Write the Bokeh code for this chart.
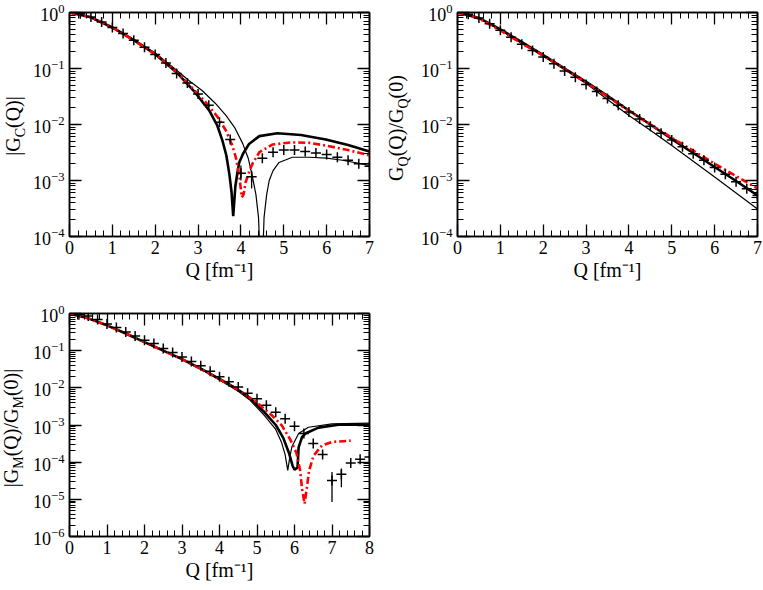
from bokeh.plotting import figure
from bokeh.models import Range1d, LinearAxis, LogAxis, FixedTicker, CustomJSTickFormatter, Div
from bokeh.layouts import column, row
from bokeh.embed import file_html
from bokeh.resources import INLINE

# ---------------- data: panel 1, |G_C(Q)| ----------------
qc_thick = [0, 0.5, 1.0, 1.5, 2.0, 2.5, 2.9, 3.26, 3.45, 3.57, 3.66, 3.73, 3.78, 3.82, 3.87,
            3.92, 3.96, 4.05, 4.19, 4.43, 4.85, 5.4, 5.98, 6.5, 7.0]
gc_thick = [1.0, 0.82, 0.54, 0.32, 0.18, 0.085, 0.040, 0.0178, 0.0095, 0.0051, 0.0028, 0.0013,
            6.3e-4, 2.3e-4, 7.9e-4, 1.4e-3, 2.1e-3, 3.0e-3, 4.5e-3, 6.2e-3, 7.0e-3, 6.5e-3,
            5.4e-3, 4.3e-3, 3.3e-3]
qc_thin = [0, 0.5, 1.0, 1.5, 2.0, 2.5, 2.8, 3.1, 3.4, 3.65, 3.85, 4.04, 4.17, 4.27, 4.35, 4.41,
           4.48, 4.54, 4.6, 4.66, 4.75, 4.89, 5.2, 5.59, 6.0, 6.37, 7.0]
gc_thin = [1.0, 0.83, 0.55, 0.33, 0.19, 0.093, 0.060, 0.040, 0.024, 0.0145, 0.0089, 0.0046,
           0.0025, 0.00115, 5.6e-4, 2.2e-4, 1.0e-5, 2.2e-4, 5.6e-4, 1.0e-3, 1.5e-3, 2.1e-3,
           2.6e-3, 2.6e-3, 2.5e-3, 2.3e-3, 1.86e-3]
qc_red = [0, 0.5, 1.0, 1.5, 2.0, 2.5, 2.9, 3.18, 3.45, 3.65, 3.8, 3.88, 3.96, 4.02, 4.06, 4.11,
          4.2, 4.27, 4.43, 4.74, 5.2, 5.6, 5.98, 6.5, 7.0]
gc_red = [1.0, 0.82, 0.54, 0.32, 0.18, 0.087, 0.042, 0.025, 0.0138, 0.0078, 0.0042, 0.0026,
          0.00126, 5.0e-4, 5.6e-4, 9.3e-4, 1.5e-3, 2.0e-3, 3.2e-3, 4.4e-3, 4.8e-3, 4.7e-3,
          4.2e-3, 3.5e-3, 2.8e-3]
qc_data = [0.25, 0.5, 0.75, 1.0, 1.25, 1.5, 1.75, 2.0, 2.25, 2.5, 2.75, 3.0, 3.25, 3.5, 3.75,
           4.0, 4.25, 4.5, 4.75, 5.0, 5.25, 5.5, 5.75, 6.0, 6.25, 6.5, 6.75, 7.0]
gc_data = [0.95, 0.83, 0.68, 0.54, 0.42, 0.32, 0.24, 0.178, 0.126, 0.081, 0.055, 0.035, 0.022,
           0.011, 0.0054, 1.35e-3, 1.17e-3, 2.5e-3, 3.2e-3, 3.5e-3, 3.5e-3, 3.3e-3, 3.1e-3,
           2.9e-3, 2.6e-3, 2.3e-3, 2.0e-3, 1.8e-3]
qc_err = [4.0, 4.25]
gc_err_lo = [1.0e-3, 7.2e-4]
gc_err_hi = [1.86e-3, 1.5e-3]

# ---------------- data: panel 2, G_Q(Q)/G_Q(0) ----------------
qq_line = [0, 0.5, 1.0, 1.5, 2.0, 2.5, 3.0, 3.5, 4.0, 4.5, 5.0, 5.5, 6.0, 6.5, 7.0]
gq_thick = [1.0, 0.80, 0.50, 0.295, 0.174, 0.10, 0.0575, 0.0324, 0.0178, 0.0100, 0.0055,
            0.0031, 0.00174, 9.8e-4, 5.4e-4]
gq_thin = [1.0, 0.79, 0.49, 0.28, 0.166, 0.095, 0.054, 0.028, 0.0145, 0.0079, 0.0042, 0.0022,
           0.00115, 6.0e-4, 3.1e-4]
gq_red = [1.0, 0.78, 0.48, 0.28, 0.17, 0.098, 0.056, 0.0316, 0.0174, 0.0100, 0.0058, 0.0034,
          0.0020, 0.0012, 7.2e-4]
qq_data = [0.25, 0.5, 0.75, 1.0, 1.25, 1.5, 1.75, 2.0, 2.25, 2.5, 2.75, 3.0, 3.25, 3.5, 3.75,
           4.0, 4.25, 4.5, 4.75, 5.0, 5.25, 5.5, 5.75, 6.0, 6.25, 6.5, 6.75, 7.0]
gq_data = [0.93, 0.80, 0.63, 0.48, 0.36, 0.27, 0.21, 0.160, 0.122, 0.090, 0.070, 0.052, 0.039,
           0.029, 0.0220, 0.0168, 0.0125, 0.0093, 0.0070, 0.0053, 0.0040, 0.0030, 0.0023,
           0.0017, 0.00129, 9.5e-4, 7.1e-4, 5.4e-4]

# ---------------- data: panel 3, |G_M(Q)/G_M(0)| ----------------
qm_thick = [0, 0.5, 1.0, 1.5, 2.0, 2.5, 3.0, 3.5, 4.0, 4.5, 4.8, 5.2, 5.5, 5.7, 5.85, 5.95,
            6.0, 6.08, 6.11, 6.2, 6.29, 6.64, 7.17, 8.0]
gm_thick = [1.0, 0.74, 0.48, 0.29, 0.17, 0.10, 0.059, 0.033, 0.0174, 0.0089, 0.0054, 0.0022,
            0.0010, 4.5e-4, 1.8e-4, 7.9e-5, 6.3e-5, 7.1e-5, 2.5e-4, 4.7e-4, 5.9e-4, 8.5e-4,
            1.02e-3, 1.02e-3]
qm_thin = [0, 0.5, 1.0, 1.5, 2.0, 2.5, 3.0, 3.5, 4.0, 4.5, 4.8, 5.2, 5.5, 5.65, 5.75, 5.82,
           5.87, 5.93, 6.11, 6.37, 7.0, 8.0]
gm_thin = [1.0, 0.74, 0.48, 0.29, 0.17, 0.10, 0.058, 0.032, 0.0162, 0.0081, 0.0048, 0.0018,
           7.6e-4, 3.5e-4, 1.6e-4, 6.0e-5, 1.26e-4, 2.6e-4, 5.9e-4, 8.7e-4, 1.07e-3, 1.12e-3]
qm_red = [0, 0.5, 1.0, 1.5, 2.0, 2.5, 3.0, 3.5, 4.0, 4.5, 5.0, 5.4, 5.66, 5.89, 6.05, 6.15,
          6.2, 6.27, 6.33, 6.39, 6.51, 6.73, 7.0, 7.5]
gm_red = [1.0, 0.74, 0.48, 0.29, 0.17, 0.10, 0.059, 0.032, 0.017, 0.0089, 0.0040, 0.0018,
          9.8e-4, 4.0e-4, 1.8e-4, 6.0e-5, 1.95e-5, 7.6e-6, 2.1e-5, 6.0e-5, 1.5e-4, 2.8e-4,
          3.5e-4, 3.8e-4]
qm_data = [0.25, 0.5, 0.75, 1.0, 1.25, 1.5, 1.75, 2.0, 2.25, 2.5, 2.75, 3.0, 3.25, 3.5, 3.75,
           4.0, 4.25, 4.5, 4.75, 5.0, 5.25, 5.5, 5.75, 6.0, 6.25, 6.5, 6.75, 7.0, 7.25, 7.5,
           7.75, 8.0]
gm_data = [0.93, 0.85, 0.69, 0.52, 0.42, 0.32, 0.25, 0.19, 0.155, 0.115, 0.089, 0.068, 0.051,
           0.039, 0.028, 0.020, 0.0145, 0.0105, 0.0072, 0.0051, 0.0034, 0.0022, 0.00148,
           9.3e-4, 5.9e-4, 3.2e-4, 1.6e-4, 3.2e-5, 4.7e-5, 9.5e-5, 1.2e-4, 1.38e-4]
qm_err = [7.0, 7.25]
gm_err_lo = [8.5e-6, 2.1e-5]
gm_err_hi = [5.4e-5, 6.8e-5]

# ---------------- ticks and texts ----------------
x_ticks_7 = [0, 1, 2, 3, 4, 5, 6, 7]
x_ticks_8 = [0, 1, 2, 3, 4, 5, 6, 7, 8]
y_ticks_4 = [1e-4, 1e-3, 1e-2, 1e-1, 1.0]
y_ticks_6 = [1e-6, 1e-5, 1e-4, 1e-3, 1e-2, 1e-1, 1.0]
x_label = "Q [fm\u207b\u00b9]"
ylab_c = ("|G", "C", "(Q)|")
ylab_q = ("G", "Q", "(Q)/G", "Q", "(0)")
ylab_m = ("|G", "M", "(Q)/G", "M", "(0)|")

SERIF = "Liberation Serif"
RED = "#ff0000"


def minor_lin(xmax):
    return [i * 0.2 for i in range(int(xmax * 5) + 1) if i % 5 != 0]


def minor_log(e0):
    return [m * 10.0 ** e for e in range(e0, 0) for m in range(2, 10)]


def style_axis(ax, ticks, minor, labels=True, standoff=5):
    ax.ticker = FixedTicker(ticks=ticks, minor_ticks=minor)
    ax.major_tick_in = 12
    ax.major_tick_out = 0
    ax.minor_tick_in = 6
    ax.minor_tick_out = 0
    ax.axis_line_color = "black"
    ax.axis_line_width = 1.5
    ax.major_tick_line_color = "black"
    ax.major_tick_line_width = 1.3
    ax.minor_tick_line_color = "black"
    ax.minor_tick_line_width = 1.0
    ax.major_label_text_font = SERIF
    ax.major_label_text_font_size = "18px"
    ax.major_label_text_color = "black"
    ax.major_label_standoff = standoff
    if not labels:
        ax.formatter = CustomJSTickFormatter(code="return ''")
        ax.major_label_standoff = 0


def panel(xmax, ymin_exp, fw, fh, bl, bt, br, bb):
    p = figure(frame_width=fw, frame_height=fh, min_border_left=bl, min_border_top=bt,
               min_border_right=br, min_border_bottom=bb, y_axis_type="log",
               x_range=Range1d(0, xmax), y_range=Range1d(10.0 ** ymin_exp, 1.0),
               output_backend="svg", toolbar_location=None)
    p.xgrid.visible = False
    p.ygrid.visible = False
    p.outline_line_color = "black"
    p.outline_line_width = 1.5
    p.background_fill_color = "white"
    p.border_fill_color = "white"
    xt = x_ticks_7 if xmax == 7 else x_ticks_8
    yt = y_ticks_4 if ymin_exp == -4 else y_ticks_6
    style_axis(p.xaxis[0], xt, minor_lin(xmax), standoff=4)
    style_axis(p.yaxis[0], yt, minor_log(ymin_exp), standoff=5)
    p.xaxis[0].axis_label = x_label
    p.xaxis[0].axis_label_text_font = SERIF
    p.xaxis[0].axis_label_text_font_style = "normal"
    p.xaxis[0].axis_label_text_font_size = "20px"
    p.xaxis[0].axis_label_text_color = "black"
    p.xaxis[0].axis_label_standoff = 2
    top = LinearAxis()
    style_axis(top, xt, minor_lin(xmax), labels=False)
    p.add_layout(top, "above")
    right = LogAxis()
    style_axis(right, yt, minor_log(ymin_exp), labels=False)
    p.add_layout(right, "right")
    return p


def draw(p, q_thin, v_thin, q_thick, v_thick, q_red, v_red, q_dat, v_dat, q_err=None, lo=None, hi=None):
    p.line(q_thin, v_thin, line_color="black", line_width=1.2)
    p.line(q_thick, v_thick, line_color="black", line_width=2.6)
    p.line(q_red, v_red, line_color=RED, line_width=2.6, line_dash="7 3 2 3")
    if q_err is not None:
        p.segment(x0=q_err, y0=lo, x1=q_err, y1=hi, line_color="black", line_width=1.3)
    p.scatter(q_dat, v_dat, marker="cross", size=10, line_color="black", line_width=1.5)


def ylabel_div(parts, w, h, cx, cy):
    html = ""
    for i, t in enumerate(parts):
        if i % 2 == 1:
            html += ('<sub style="font-size:14px;vertical-align:-5px;line-height:0">%s</sub>' % t)
        else:
            html += t
    inner = ('<div style="position:absolute;left:%dpx;top:%dpx;'
             'transform:translate(-50%%,-50%%) rotate(-90deg);white-space:nowrap;'
             "font-family:'Liberation Serif';font-size:20px;line-height:20px;color:#000;\">%s</div>"
             % (cx, cy, html))
    text = '<div style="position:relative;width:%dpx;height:%dpx;">%s</div>' % (w, h, inner)
    return Div(text=text, width=w, height=h, margin=0)


H1 = 298
p1 = panel(7, -4, 300, 224, 37, 12, 13, 62)
draw(p1, qc_thin, gc_thin, qc_thick, gc_thick, qc_red, gc_red, qc_data, gc_data,
     qc_err, gc_err_lo, gc_err_hi)
p2 = panel(7, -4, 300, 224, 37, 12, 10, 62)
draw(p2, qq_line, gq_thin, qq_line, gq_thick, qq_line, gq_red, qq_data, gq_data)
p3 = panel(8, -6, 300, 223, 37, 15, 23, 52)
draw(p3, qm_thin, gm_thin, qm_thick, gm_thick, qm_red, gm_red, qm_data, gm_data,
     qm_err, gm_err_lo, gm_err_hi)

d1 = ylabel_div(ylab_c, 30, H1, 13, 126)
d2 = ylabel_div(ylab_q, 36, H1, 14, 128)
d3 = ylabel_div(ylab_m, 30, 290, 11, 130)

layout = column(row(d1, p1, d2, p2), row(d3, p3))
open("out.html", "w").write(file_html(layout, INLINE, "form factors"))
